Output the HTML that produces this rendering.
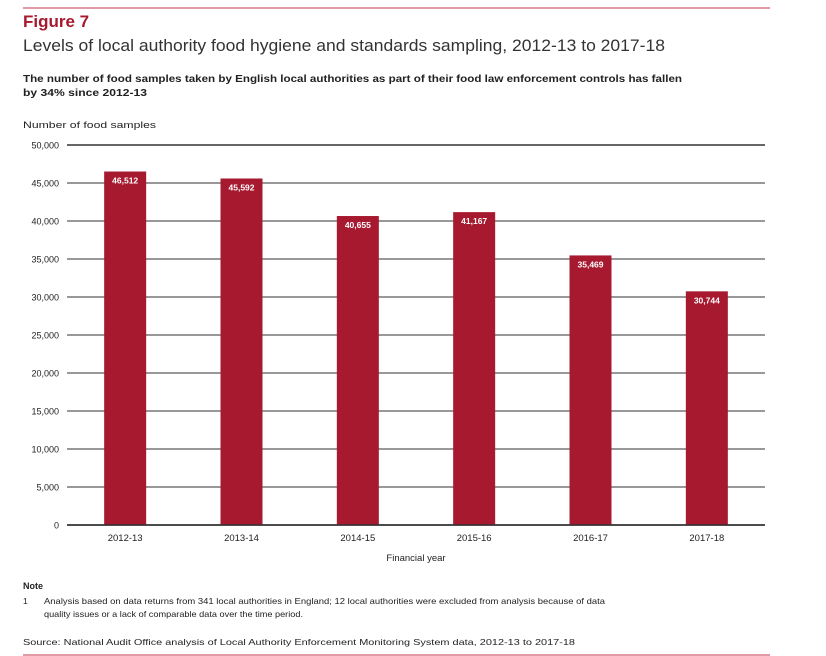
<!DOCTYPE html>
<html><head><meta charset="utf-8">
<style>
body{margin:0;background:#fff;width:826px;height:656px;overflow:hidden;font-family:"Liberation Sans",Arial,sans-serif}
svg{position:absolute;left:0;top:0}
</style></head>
<body>
<svg width="826" height="656">
<line x1="23" y1="8" x2="770" y2="8" stroke="#d9798a" stroke-width="1.5"/>
<text x="23" y="27" font-size="17" font-weight="bold" fill="#a6192e">Figure 7</text>
<text x="23" y="51" font-size="17" fill="#333" textLength="642" lengthAdjust="spacingAndGlyphs">Levels of local authority food hygiene and standards sampling, 2012-13 to 2017-18</text>
<text x="23" y="82" font-size="10" font-weight="bold" fill="#222" textLength="659" lengthAdjust="spacingAndGlyphs">The number of food samples taken by English local authorities as part of their food law enforcement controls has fallen</text>
<text x="23" y="96" font-size="10" font-weight="bold" fill="#222" textLength="124" lengthAdjust="spacingAndGlyphs">by 34% since 2012-13</text>
<text x="23" y="128" font-size="9.5" fill="#222" textLength="133" lengthAdjust="spacingAndGlyphs">Number of food samples</text>
<g id="grid"></g>
<g id="bars"></g>
<text x="416" y="561" font-size="9.5" text-anchor="middle" fill="#222">Financial year</text>
<text x="23" y="589" font-size="9" font-weight="bold" fill="#222">Note</text>
<text x="23" y="604" font-size="8.5" fill="#222">1</text>
<text x="44" y="604" font-size="8.5" fill="#222" textLength="561" lengthAdjust="spacingAndGlyphs">Analysis based on data returns from 341 local authorities in England; 12 local authorities were excluded from analysis because of data</text>
<text x="44" y="617" font-size="8.5" fill="#222" textLength="259" lengthAdjust="spacingAndGlyphs">quality issues or a lack of comparable data over the time period.</text>
<text x="23" y="645" font-size="8.5" fill="#222" textLength="552" lengthAdjust="spacingAndGlyphs">Source: National Audit Office analysis of Local Authority Enforcement Monitoring System data, 2012-13 to 2017-18</text>
<line x1="23" y1="655" x2="770" y2="655" stroke="#d9798a" stroke-width="1.5"/>
</svg>
<script>
const categories=["2012-13","2013-14","2014-15","2015-16","2016-17","2017-18"];
const values=[46512,45592,40655,41167,35469,30744];
const labels=["46,512","45,592","40,655","41,167","35,469","30,744"];
const ticks=[0,5000,10000,15000,20000,25000,30000,35000,40000,45000,50000];
const tickLabels=["0","5,000","10,000","15,000","20,000","25,000","30,000","35,000","40,000","45,000","50,000"];
const NS="http://www.w3.org/2000/svg";
const x0=67,x1=765,yBase=525,yTop=145,maxV=50000;
const y=v=>yBase-(v/maxV)*(yBase-yTop);
const band=(x1-x0)/categories.length;
const xc=i=>x0+band*(i+0.5);
function mk(t,a,p){const e=document.createElementNS(NS,t);for(const k in a)e.setAttribute(k,a[k]);p.appendChild(e);return e;}
const g=document.getElementById('grid'),b=document.getElementById('bars');
ticks.forEach((t,i)=>{
  const l=mk('line',{x1:x0,x2:x1,y1:y(t),y2:y(t),stroke:t===0||t===maxV?'#333':'#777','stroke-width':1.5},g);
  
  
  const tx=mk('text',{x:59,y:y(t)+3.5,'font-size':9,'text-anchor':'end',fill:'#222'},g);
  tx.textContent=tickLabels[i];
  
  
});
values.forEach((v,i)=>{
  const w=42;
  const r=mk('rect',{x:xc(i)-w/2,y:y(v),width:w,height:yBase-y(v),fill:'#a6192e'},b);
  
  
  const t=mk('text',{x:xc(i),y:y(v)+12,'font-size':8.5,'font-weight':'bold','text-anchor':'middle',fill:'#fff'},b);
  t.textContent=labels[i];
  
  
  const c=mk('text',{x:xc(i),y:yBase+16,'font-size':9.5,'text-anchor':'middle',fill:'#222'},b);
  c.textContent=categories[i];
  
  
});
const axis=mk('line',{x1:x0,x2:x1,y1:yBase,y2:yBase,stroke:'#333','stroke-width':1.5},b);


</script>
</body></html>
